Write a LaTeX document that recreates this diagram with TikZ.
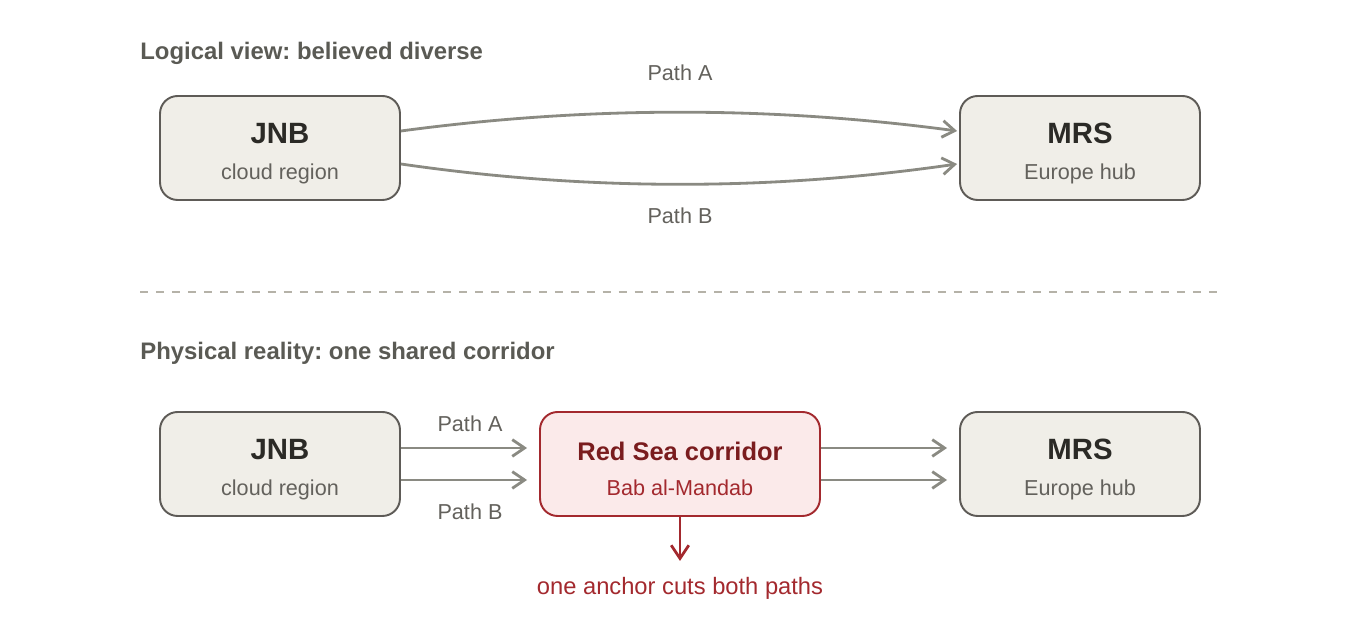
\documentclass[tikz,border=0pt]{standalone}
\usepackage{fontspec}
\setmainfont{Liberation Sans}
\usepackage{xcolor}
\usepackage{tikz}
\usetikzlibrary{arrows.meta}
\frenchspacing

\definecolor{boxfill}{HTML}{F0EEE8}
\definecolor{boxline}{HTML}{5E5B57}
\definecolor{inktitle}{HTML}{5A5A54}
\definecolor{inkdark}{HTML}{2B2A26}
\definecolor{inksub}{HTML}{63615C}
\definecolor{edgegray}{HTML}{8A8A82}
\definecolor{dashgray}{HTML}{B5B2A8}
\definecolor{redline}{HTML}{A3292E}
\definecolor{redfill}{HTML}{FBEAEA}
\definecolor{reddark}{HTML}{7A1C1E}

\begin{document}
\begin{tikzpicture}[
    x=0.02cm, y=-0.02cm,
    box/.style={rectangle, rounded corners=10pt, draw=boxline, fill=boxfill, line width=1.1pt, minimum width=4.8cm, minimum height=2.08cm, inner sep=0pt},
    hotbox/.style={box, draw=redline, fill=redfill, minimum width=5.6cm},
    heading/.style={anchor=base west, inner sep=0pt, text=inktitle, font=\fontsize{13.6}{16}\selectfont\bfseries},
    sitename/.style={anchor=base, inner sep=0pt, text=inkdark, font=\fontsize{16.7}{20}\selectfont\bfseries},
    sitesub/.style={anchor=base, inner sep=0pt, text=inksub, font=\fontsize{12.3}{15}\selectfont},
    pathlabel/.style={anchor=base, inner sep=0pt, text=inksub, font=\fontsize{12.3}{15}\selectfont},
    link/.style={-{Straight Barb[length=7pt,width=9.5pt]}, draw=edgegray, line width=1.6pt},
    cut/.style={-{Straight Barb[length=7.5pt,width=10pt]}, draw=redline, line width=1.6pt},
    divider/.style={draw=dashgray, line width=1.1pt, dash pattern=on 4.54pt off 4.54pt}
]
\useasboundingbox (0,0) rectangle (1360,644);

\node[heading] (logical) at (140,60) {Logical view: believed diverse};
\node[box] (jnb1) at (280,148) {};
\node[box] (mrs1) at (1080,148) {};
\node[sitename] (jnb1name) at (280,144) {JNB};
\node[sitesub] (jnb1sub) at (280,180) {cloud region};
\node[sitename] (mrs1name) at (1080,144) {MRS};
\node[sitesub] (mrs1sub) at (1080,180) {Europe hub};
\node[pathlabel] (patha1) at (680,81) {Path A};
\node[pathlabel] (pathb1) at (680,224) {Path B};

\draw[link] ([yshift=0.34cm]jnb1.east) .. controls +(186,-25) and +(-186,-25) .. ([xshift=-0.04cm,yshift=0.34cm]mrs1.west);
\draw[link] ([yshift=-0.32cm]jnb1.east) .. controls +(186,27) and +(-186,27) .. ([xshift=-0.04cm,yshift=-0.32cm]mrs1.west);

\coordinate (divL) at (140,292);
\coordinate (divR) at (1224,292);
\draw[divider] (divL) -- (divR);

\node[heading] (physical) at (140,360) {Physical reality: one shared corridor};
\node[box] (jnb2) at (280,464) {};
\node[hotbox] (sea) at (680,464) {};
\node[box] (mrs2) at (1080,464) {};
\node[sitename] (jnb2name) at (280,460) {JNB};
\node[sitesub] (jnb2sub) at (280,496) {cloud region};
\node[sitename, text=reddark, font=\fontsize{14.5}{18}\selectfont\bfseries] (seaname) at (680,461) {Red Sea corridor};
\node[sitesub, text=redline] (seasub) at (680,496) {Bab al-Mandab};
\node[sitename] (mrs2name) at (1080,460) {MRS};
\node[sitesub] (mrs2sub) at (1080,496) {Europe hub};
\node[pathlabel] (patha2) at (470,432) {Path A};
\node[pathlabel] (pathb2) at (470,520) {Path B};
\node[anchor=base, inner sep=0pt, text=redline, font=\fontsize{13.5}{16}\selectfont] (cutnote) at (680,595) {one anchor cuts both paths};

\draw[link] ([yshift=0.32cm]jnb2.east) -- ([xshift=-0.24cm,yshift=0.32cm]sea.west);
\draw[link] ([yshift=-0.32cm]jnb2.east) -- ([xshift=-0.24cm,yshift=-0.32cm]sea.west);
\draw[link] ([yshift=0.32cm]sea.east) -- ([xshift=-0.24cm,yshift=0.32cm]mrs2.west);
\draw[link] ([yshift=-0.32cm]sea.east) -- ([xshift=-0.24cm,yshift=-0.32cm]mrs2.west);
\draw[cut] (sea.south) -- ([yshift=0.33cm]cutnote.north);
\end{tikzpicture}
\end{document}
